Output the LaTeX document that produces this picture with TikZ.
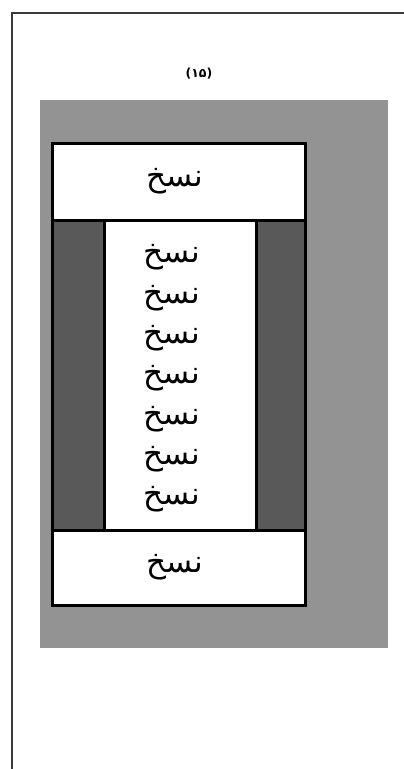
\documentclass[tikz,border=0pt]{standalone}
\usepackage{fontspec}
\TeXXeTstate=1
\newfontfamily\arabicfont[Script=Arabic]{DejaVu Sans}
\definecolor{bggray}{HTML}{939393}
\definecolor{darkgray}{HTML}{595959}
\definecolor{framegray}{HTML}{3A3A3A}
\tikzset{
  framelines/.style={draw=framegray, line width=1.4pt},
  caption/.style={font=\arabicfont\bfseries\fontsize{12.5}{14}\selectfont, inner sep=0pt},
  wbox/.style={draw=black, fill=white, line width=3pt, inner sep=0pt},
  word/.style={font=\arabicfont\fontsize{31}{34}\selectfont, inner sep=0pt}
}
\begin{document}
\begin{tikzpicture}[x=1pt,y=-1pt]
\useasboundingbox (0,0) rectangle (404,769);
\draw[framelines] (12,769) -- (12,13) -- (404,13);
\node[caption] (cap) at (199,74) {(۱۵)};
\fill[bggray] (40,100) rectangle (388,648);
\node[wbox, fill=darkgray, minimum width=253pt, minimum height=310pt] (mid) at (178.5,375) {};
\node[wbox, minimum width=152pt, minimum height=310pt] (col) at (180,375) {};
\node[wbox, minimum width=253pt, minimum height=77pt] (top) at (178.5,181.5) {};
\node[wbox, minimum width=253pt, minimum height=75pt] (bot) at (178.5,567.5) {};
\node[word] (t0) at (175,181.5) {\beginR نسخ\endR};
\node[word] (b0) at (175,567.5) {\beginR نسخ\endR};
\foreach \i in {1,...,7} {
  \node[word] (w\i) at (172,{257.5+(\i-1)*40.3}) {\beginR نسخ\endR};
}
\end{tikzpicture}
\end{document}
